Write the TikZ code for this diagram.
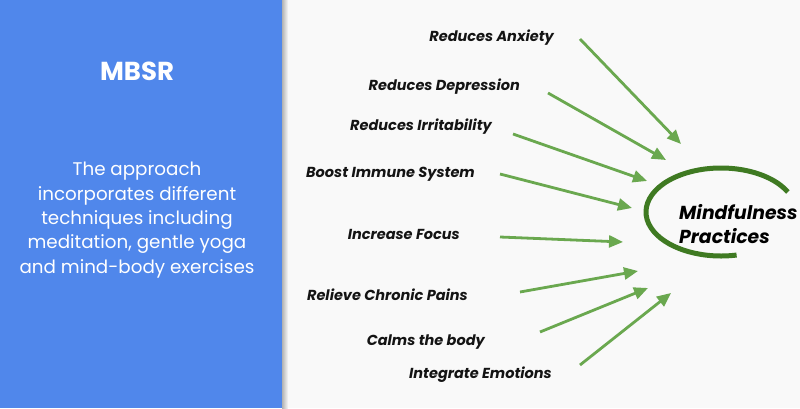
\documentclass[tikz,border=0pt]{standalone}
\usepackage{fontspec}
\setmainfont{Poppins}
\usetikzlibrary{arrows.meta}
\definecolor{panelblue}{HTML}{5087EB}
\definecolor{bggray}{HTML}{F9F9F9}
\definecolor{arrowgreen}{HTML}{6AA84F}
\definecolor{arcgreen}{HTML}{3F7A22}
\definecolor{labelink}{HTML}{141414}
\tikzset{
  benefit/.style={anchor=east, inner sep=0pt, font=\fontsize{14.5}{16}\selectfont\bfseries\itshape, text=labelink},
  flowarrow/.style={draw=arrowgreen, line width=2.8pt, -{Triangle[length=14pt,width=12pt]}},
}
\begin{document}
\begin{tikzpicture}[x=1pt,y=1pt]
\useasboundingbox (0,0) rectangle (800,408);
\fill[bggray] (0,0) rectangle (800,408);
\shade[left color=black!30, right color=bggray] (282,0) rectangle (288,408);
\fill[panelblue] (0,0) rectangle (282,408);

\node[font=\fontsize{26}{30}\selectfont\bfseries, text=white] (title) at (137,337) {MBSR};
\node[font=\fontsize{18.3}{24.3}\selectfont, text=white, align=center] (desc) at (137,188)
  {The approach\\incorporates different\\techniques including\\meditation, gentle yoga\\and mind-body exercises};

% labels
\node[benefit] (l1) at (554,370) {Reduces Anxiety};
\node[benefit] (l2) at (520,321) {Reduces Depression};
\node[benefit] (l3) at (492,281) {Reduces Irritability};
\node[benefit] (l4) at (475,234) {Boost Immune System};
\node[benefit] (l5) at (460,174) {Increase Focus};
\node[benefit] (l6) at (468,113) {Relieve Chronic Pains};
\node[benefit] (l7) at (485,66) {Calms the body};
\node[benefit] (l8) at (552,33) {Integrate Emotions};

% arrow endpoints
\coordinate (s1) at (580,369); \coordinate (e1) at (681,264);
\coordinate (s2) at (548,315); \coordinate (e2) at (666,248);
\coordinate (s3) at (513,274); \coordinate (e3) at (647,227);
\coordinate (s4) at (500,234); \coordinate (e4) at (632,200);
\coordinate (s5) at (500,171); \coordinate (e5) at (623,166);
\coordinate (s6) at (520,116); \coordinate (e6) at (638,137);
\coordinate (s7) at (540,76);  \coordinate (e7) at (648,120);
\coordinate (s8) at (580,43);  \coordinate (e8) at (671,115);
\foreach \i in {1,...,8} { \draw[flowarrow] (s\i) -- (e\i); }

% arc
\coordinate (arcstart) at ({721+75*cos(27)},{196+44*sin(27)});
\draw[arcgreen, line width=5pt] (arcstart) arc[start angle=27, end angle=282, x radius=75, y radius=44];

\node[anchor=west, inner sep=0pt, align=left, font=\fontsize{18.8}{24}\selectfont\bfseries\itshape, text=black] (mind) at (679,184) {Mindfulness\\Practices};
\end{tikzpicture}
\end{document}
